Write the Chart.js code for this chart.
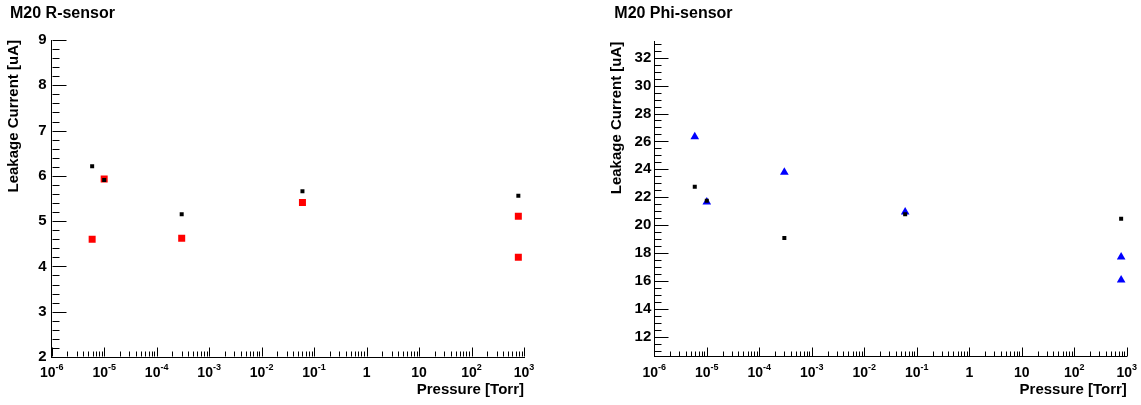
<!DOCTYPE html>
<html>
<head>
<meta charset="utf-8">
<script src="https://cdn.jsdelivr.net/npm/chart.js@4.4.1/dist/chart.umd.min.js"></script>
<style>
  body { margin: 0; background: #fff; }
  #wrap { display: flex; width: 1141px; height: 405px; }
  canvas { display: block; }
</style>
</head>
<body>
<div id="wrap">
  <canvas id="rChart" width="570" height="405"></canvas>
  <canvas id="phiChart" width="571" height="405"></canvas>
</div>
<script>
// tick labels
const xDecades = [-6, -5, -4, -3, -2, -1, 0, 1, 2, 3];
const rTicks = [2, 3, 4, 5, 6, 7, 8, 9];
const phiTicks = [12, 14, 16, 18, 20, 22, 24, 26, 28, 30, 32];

// M20 R-sensor
const rPressureBlack = [5.9e-6, 1e-5, 3e-4, 0.06, 780];
const rCurrentBlack = [6.21, 5.91, 5.15, 5.66, 5.56];
const rPressureRed = [5.9e-6, 1e-5, 3e-4, 0.06, 780, 780];
const rCurrentRed = [4.60, 5.93, 4.62, 5.41, 5.11, 4.20];

// M20 Phi-sensor
const phiPressureBlack = [5.9e-6, 1e-5, 3e-4, 0.06, 780];
const phiCurrentBlack = [22.75, 21.74, 19.07, 20.77, 20.45];
const phiPressureBlue = [5.9e-6, 1e-5, 3e-4, 0.06, 780, 780];
const phiCurrentBlue = [26.33, 21.66, 23.78, 20.93, 17.71, 16.06];

const FONT = "'Liberation Sans', Arial, Helvetica, sans-serif";
Chart.defaults.font.family = FONT;
Chart.defaults.color = '#000';

function points(xs, ys) {
  return xs.map((x, i) => ({ x: x, y: ys[i] }));
}

// ROOT style axis: ticks pointing into the frame, 10^n labels with superscripts
const rootAxis = {
  id: 'rootAxis',
  afterDraw(chart, args, o) {
    const { ctx, scales: { x, y } } = chart;
    const ax = Math.round(x.left) + 0.5;
    const ay = Math.round(y.bottom) - 0.5;
    ctx.save();
    ctx.strokeStyle = '#000';
    ctx.lineWidth = 1;
    ctx.beginPath();
    // y ticks
    const start = Math.ceil((y.min - 1e-9) / o.yMinor) * o.yMinor;
    for (let v = start; v <= y.max + 1e-9; v += o.yMinor) {
      const r = v / o.yMajor;
      const len = Math.abs(r - Math.round(r)) < 1e-6 ? 14 : 7;
      const py = Math.round(y.getPixelForValue(v)) + 0.5;
      ctx.moveTo(ax, py);
      ctx.lineTo(ax + len, py);
    }
    // x ticks
    xDecades.forEach(e => {
      for (let m = 1; m <= 9; m++) {
        const v = m * Math.pow(10, e);
        if (v < x.min * 0.999 || v > x.max * 1.001) continue;
        const px = Math.round(x.getPixelForValue(v)) + 0.5;
        ctx.moveTo(px, ay);
        ctx.lineTo(px, ay - (m === 1 ? 9 : 5));
      }
    });
    ctx.stroke();

    // x labels
    ctx.fillStyle = '#000';
    ctx.textBaseline = 'alphabetic';
    ctx.textAlign = 'left';
    x.ticks.forEach(t => {
      const e = Math.round(Math.log10(t.value));
      const px = x.getPixelForValue(t.value);
      let base = '10', sup = String(e);
      if (e === 0) { base = '1'; sup = ''; }
      if (e === 1) { sup = ''; }
      ctx.font = 'bold 14px ' + FONT;
      const wb = ctx.measureText(base).width;
      ctx.font = 'bold 9px ' + FONT;
      const ws = sup ? ctx.measureText(sup).width : 0;
      const left = px - (wb + ws) / 2;
      ctx.font = 'bold 14px ' + FONT;
      ctx.fillText(base, left, 377);
      if (sup) {
        ctx.font = 'bold 9px ' + FONT;
        ctx.fillText(sup, left + wb, 370);
      }
    });
    ctx.restore();
  }
};

function makeChart(id, c) {
  return new Chart(document.getElementById(id), {
    type: 'scatter',
    data: { datasets: c.datasets },
    options: {
      responsive: false,
      animation: false,
      layout: { padding: { left: c.padLeft, right: c.padRight, top: 0, bottom: 0 } },
      plugins: {
        legend: { display: false },
        tooltip: { enabled: false },
        title: {
          display: true,
          text: c.title,
          align: 'start',
          color: '#000',
          font: { size: 16, weight: 'bold' },
          padding: { top: 3.7, bottom: c.titleBottom }
        },
        rootAxis: { yMinor: c.yMinor, yMajor: c.yMajor }
      },
      scales: {
        x: {
          type: 'logarithmic',
          min: 1e-6,
          max: 1e3,
          grid: { display: false, drawTicks: false },
          border: { display: true, color: '#000', width: 1 },
          ticks: { display: false },
          afterBuildTicks: s => { s.ticks = xDecades.map(e => ({ value: Math.pow(10, e) })); },
          afterFit: s => { s.height = c.xHeight; },
          title: {
            display: true,
            text: 'Pressure [Torr]',
            align: 'end',
            color: '#000',
            font: { size: 15, weight: 'bold' },
            padding: { top: 0, bottom: 6.3 }
          }
        },
        y: {
          type: 'linear',
          min: c.yMin,
          max: c.yMax,
          grid: { display: false, drawTicks: false },
          border: { display: true, color: '#000', width: 1 },
          ticks: {
            color: '#000',
            padding: c.tickPad,
            font: { size: 15, weight: 'bold' }
          },
          afterBuildTicks: s => { s.ticks = c.yTicks.map(v => ({ value: v })); },
          afterFit: s => { s.width = c.yWidth; },
          title: {
            display: true,
            text: 'Leakage Current [uA]',
            align: 'end',
            color: '#000',
            font: { size: 15, weight: 'bold' },
            padding: { top: c.yTitlePad, bottom: 0 }
          }
        }
      }
    },
    plugins: [rootAxis]
  });
}

makeChart('rChart', {
  title: 'M20 R-sensor',
  padLeft: 10, padRight: 46, yWidth: 41.7, xHeight: 48,
  titleBottom: 17.1, yTitlePad: -5.3, tickPad: 5,
  yMin: 2, yMax: 9, yMinor: 0.2, yMajor: 1, yTicks: rTicks,
  datasets: [
    { label: 'R-sensor (black)', data: points(rPressureBlack, rCurrentBlack),
      pointStyle: 'rect', pointRadius: 2.83, pointHoverRadius: 2.83,
      backgroundColor: '#000', borderWidth: 0 },
    { label: 'R-sensor (red)', data: points(rPressureRed, rCurrentRed),
      pointStyle: 'rect', pointRadius: 4.95, pointHoverRadius: 4.95,
      backgroundColor: '#ff0000', borderWidth: 0 }
  ]
});

makeChart('phiChart', {
  title: 'M20 Phi-sensor',
  padLeft: 44.3, padRight: 14.2, yWidth: 40, xHeight: 48.3,
  titleBottom: 18.8, yTitlePad: -6.8, tickPad: 3,
  yMin: 10.56, yMax: 33.15, yMinor: 0.5, yMajor: 2, yTicks: phiTicks,
  datasets: [
    { label: 'Phi-sensor (black)', data: points(phiPressureBlack, phiCurrentBlack),
      pointStyle: 'rect', pointRadius: 2.83, pointHoverRadius: 2.83,
      backgroundColor: '#000', borderWidth: 0 },
    { label: 'Phi-sensor (blue)', data: points(phiPressureBlue, phiCurrentBlue),
      pointStyle: 'triangle', pointRadius: 5, pointHoverRadius: 5,
      backgroundColor: '#0000ff', borderWidth: 0 }
  ]
});
</script>
</body>
</html>
